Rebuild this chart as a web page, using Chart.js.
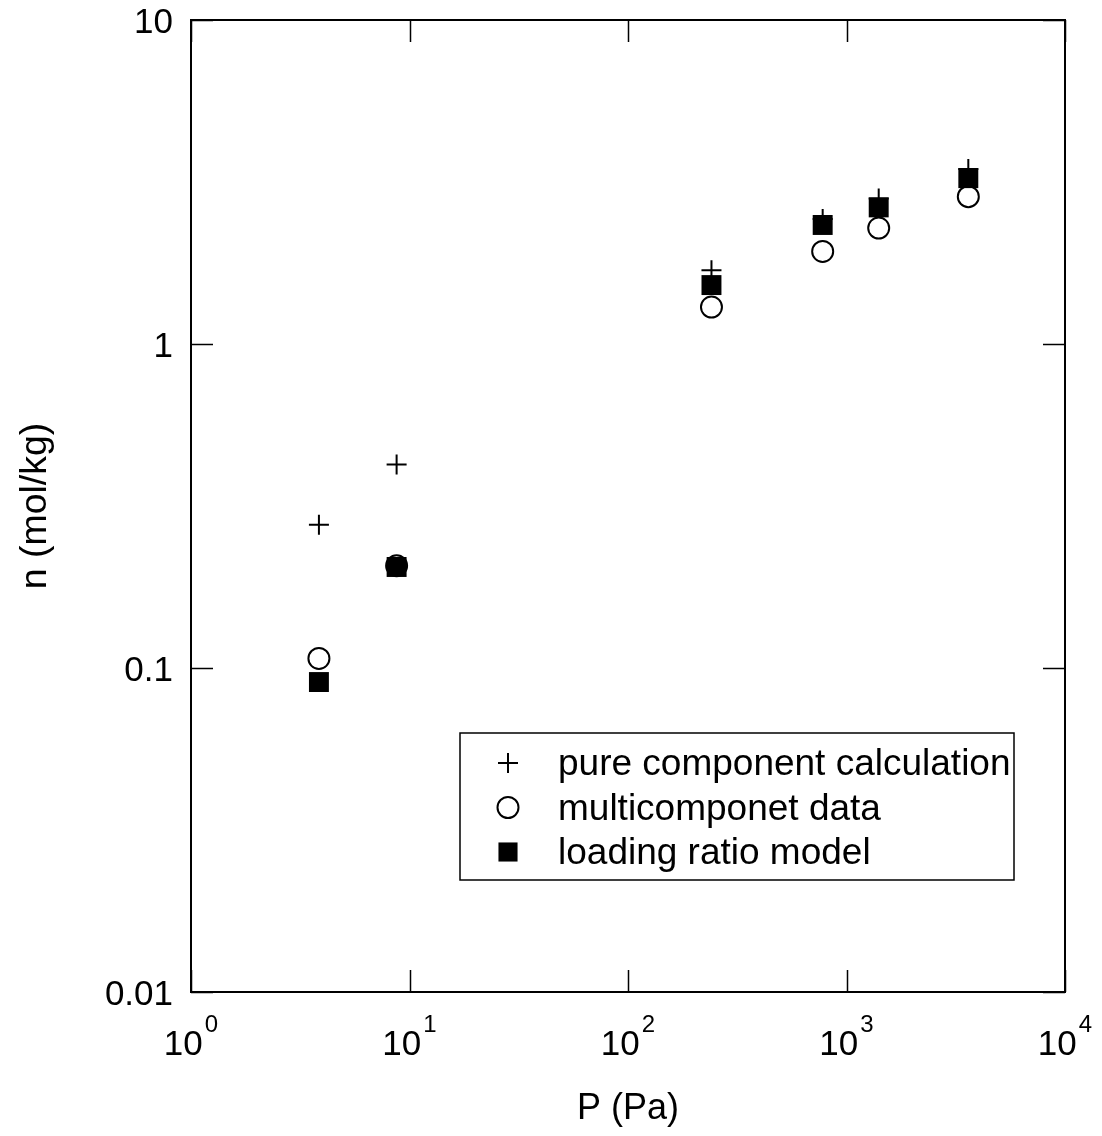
<!DOCTYPE html>
<html>
<head>
<meta charset="utf-8">
<script src="https://cdn.jsdelivr.net/npm/chart.js@4/dist/chart.umd.min.js"></script>
<style>
  html, body { margin: 0; padding: 0; background: #fff; }
  #wrap { width: 1102px; height: 1136px; }
</style>
</head>
<body>
<div id="wrap"><canvas id="plot" width="1102" height="1136"></canvas></div>
<script>
// data
const pressure = [3.85, 8.73, 241, 778, 1404, 3610];          // P (Pa)
const pureCalc = [0.277, 0.425, 1.69, 2.43, 2.81, 3.47];      // pure component calculation
const multiData = [0.107, 0.207, 1.30, 1.93, 2.28, 2.85];     // multicomponet data
const loadingRatio = [0.0905, 0.205, 1.52, 2.33, 2.64, 3.25]; // loading ratio model

const xTicks = [1, 10, 100, 1000, 10000];
const xTickExp = ["0", "1", "2", "3", "4"];
const yTicks = [0.01, 0.1, 1, 10];
const yTickLabels = ["0.01", "0.1", "1", "10"];

const FONT = "'Liberation Sans', Arial, sans-serif";

const toPts = (ys) => pressure.map((p, i) => ({ x: p, y: ys[i] }));

const series = [
  { label: "pure component calculation", data: toPts(pureCalc), pointStyle: "cross", pointRadius: 10,
    borderColor: "#000", backgroundColor: "#000", pointBorderWidth: 2, order: 3 },
  { label: "multicomponet data", data: toPts(multiData), pointStyle: "circle", pointRadius: 10.5,
    borderColor: "#000", backgroundColor: "rgba(0,0,0,0)", pointBorderWidth: 2, order: 2 },
  { label: "loading ratio model", data: toPts(loadingRatio), pointStyle: "rect", pointRadius: 14.1,
    borderColor: "#000", backgroundColor: "#000", pointBorderWidth: 0, order: 1 }
];

// frame, inward ticks, labels, titles and legend box
const framePlugin = {
  id: "frame",
  afterDatasetsDraw(chart) {
    const { ctx, chartArea: a, scales: { x, y } } = chart;
    ctx.save();
    ctx.strokeStyle = "#000";

    // ticks (inside, all four sides)
    ctx.lineWidth = 1.5;
    const tl = 22;
    xTicks.forEach(v => {
      const px = Math.round(x.getPixelForValue(v)) + 0.5;
      ctx.beginPath();
      ctx.moveTo(px, a.bottom); ctx.lineTo(px, a.bottom - tl);
      ctx.moveTo(px, a.top); ctx.lineTo(px, a.top + tl);
      ctx.stroke();
    });
    yTicks.forEach(v => {
      const py = Math.round(y.getPixelForValue(v)) + 0.5;
      ctx.beginPath();
      ctx.moveTo(a.left, py); ctx.lineTo(a.left + tl, py);
      ctx.moveTo(a.right, py); ctx.lineTo(a.right - tl, py);
      ctx.stroke();
    });

    // frame
    ctx.lineWidth = 2;
    ctx.strokeRect(a.left, a.top, a.right - a.left, a.bottom - a.top);

    // y tick labels
    ctx.fillStyle = "#000";
    ctx.font = "35px " + FONT;
    ctx.textAlign = "right";
    ctx.textBaseline = "alphabetic";
    yTicks.forEach((v, i) => {
      ctx.fillText(yTickLabels[i], a.left - 18, y.getPixelForValue(v) + 13);
    });

    // x tick labels 10^n
    xTicks.forEach((v, i) => {
      const px = x.getPixelForValue(v);
      ctx.font = "35px " + FONT;
      const wBase = ctx.measureText("10").width;
      ctx.font = "24px " + FONT;
      const wExp = ctx.measureText(xTickExp[i]).width;
      const start = px - (wBase + 2 + wExp) / 2;
      ctx.textAlign = "left";
      ctx.font = "35px " + FONT;
      ctx.fillText("10", start, a.bottom + 63);
      ctx.font = "24px " + FONT;
      ctx.fillText(xTickExp[i], start + wBase + 2, a.bottom + 40);
    });

    // axis titles
    ctx.font = "36px " + FONT;
    ctx.textAlign = "center";
    ctx.fillText("P (Pa)", (a.left + a.right) / 2, a.bottom + 127);
    ctx.save();
    ctx.translate(46, (a.top + a.bottom) / 2);
    ctx.rotate(-Math.PI / 2);
    ctx.font = "37.5px " + FONT;
    ctx.fillText("n (mol/kg)", 0, 0);
    ctx.restore();

    // legend
    const lx = 460, ly = 733, lw = 554, lh = 147;
    ctx.lineWidth = 1.5;
    ctx.strokeRect(lx, ly, lw, lh);
    ctx.textAlign = "left";
    chart.data.datasets.forEach((ds, i) => {
      const cy = ly + 30 + i * 44.5;
      ctx.fillStyle = ds.backgroundColor;
      ctx.strokeStyle = ds.borderColor;
      ctx.lineWidth = ds.pointBorderWidth || 1;
      Chart.helpers.drawPoint(ctx, {
        pointStyle: ds.pointStyle,
        radius: ds.pointStyle === "rect" ? 13.5 : ds.pointRadius,
        borderWidth: ds.pointBorderWidth,
        rotation: 0
      }, lx + 48, cy);
      ctx.fillStyle = "#000";
      ctx.font = "37px " + FONT;
      ctx.fillText(ds.label, lx + 98, cy + 12);
    });
    ctx.restore();
  }
};

new Chart(document.getElementById("plot").getContext("2d"), {
  type: "scatter",
  data: { datasets: series },
  options: {
    responsive: false,
    animation: false,
    events: [],
    layout: { padding: { left: 191, top: 20, right: 37, bottom: 144 } },
    plugins: { legend: { display: false }, tooltip: { enabled: false } },
    scales: {
      x: { type: "logarithmic", min: 1, max: 10000, display: false },
      y: { type: "logarithmic", min: 0.01, max: 10, display: false }
    }
  },
  plugins: [framePlugin]
});
</script>
</body>
</html>
